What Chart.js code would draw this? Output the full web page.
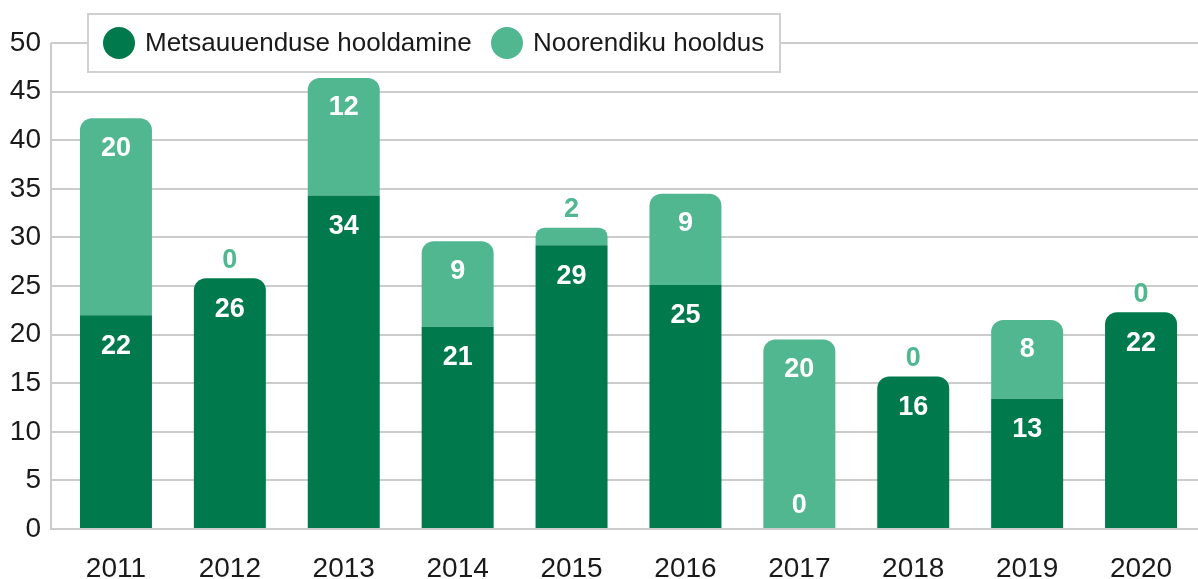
<!DOCTYPE html>
<html>
<head>
<meta charset="utf-8">
<script src="https://cdn.jsdelivr.net/npm/chart.js@4/dist/chart.umd.min.js"></script>
<style>
  html, body { margin: 0; padding: 0; background: #fff; }
  #wrap { width: 1198px; height: 579px; position: relative; }
</style>
</head>
<body>
<div id="wrap"><canvas id="chart" width="1198" height="579"></canvas></div>
<script>
const years = ['2011', '2012', '2013', '2014', '2015', '2016', '2017', '2018', '2019', '2020'];
const metsauuendus = [22.0, 25.8, 34.3, 20.8, 29.2, 25.1, 0, 15.7, 13.4, 22.3];
const noorendik = [20.25, 0, 12.1, 8.8, 1.8, 9.4, 19.5, 0, 8.1, 0];
const seriesNames = ['Metsauuenduse hooldamine', 'Noorendiku hooldus'];
const yMin = 0, yMax = 50, yStep = 5;

const DARK = '#007a4c';
const LIGHT = '#51b791';
const GRID = '#cccccc';
const FONT = '"Liberation Sans", Arial, sans-serif';

// value labels on the bars
const barLabels = {
    id: 'barLabels',
    afterDatasetsDraw(chart) {
        const ctx = chart.ctx;
        ctx.save();
        ctx.font = 'bold 27px ' + FONT;
        ctx.textAlign = 'center';
        ctx.textBaseline = 'middle';
        chart.data.datasets.forEach((ds, di) => {
            const meta = chart.getDatasetMeta(di);
            meta.data.forEach((bar, i) => {
                const v = ds.data[i];
                let y, color = '#ffffff';
                if (di === 0) {
                    if (v === 0) y = bar.base - 23;
                    else y = bar.y + 31;
                } else {
                    if (v < 4) { y = bar.y - 18; color = LIGHT; }
                    else y = bar.y + 30;
                }
                ctx.fillStyle = color;
                ctx.fillText(String(Math.round(v)), bar.x, y);
            });
        });
        ctx.restore();
    }
};

// axis line left of the ticks + boxed legend over the plot
const decor = {
    id: 'decor',
    beforeDatasetsDraw(chart) {
        const ctx = chart.ctx;
        const a = chart.chartArea;
        ctx.save();
        ctx.strokeStyle = GRID;
        ctx.lineWidth = 2;
        ctx.beginPath();
        ctx.moveTo(a.left - 8, a.top);
        ctx.lineTo(a.left - 8, a.bottom + 1);
        ctx.stroke();
        ctx.restore();
    },
    afterDraw(chart) {
        const ctx = chart.ctx;
        ctx.save();
        ctx.fillStyle = '#ffffff';
        ctx.fillRect(88, 14, 692, 58);
        ctx.strokeStyle = '#d0d0d0';
        ctx.lineWidth = 2;
        ctx.strokeRect(88, 14, 692, 58);
        ctx.font = '26px ' + FONT;
        ctx.textBaseline = 'middle';
        ctx.textAlign = 'left';
        const xs = [119, 507];
        chart.data.datasets.forEach((ds, i) => {
            ctx.fillStyle = ds.backgroundColor;
            ctx.beginPath();
            ctx.arc(xs[i], 43, 16, 0, Math.PI * 2);
            ctx.fill();
            ctx.fillStyle = '#1a1a1a';
            ctx.fillText(ds.label, xs[i] + 26, 44);
        });
        ctx.restore();
    }
};

const topRound = { topLeft: 12, topRight: 12, bottomLeft: 0, bottomRight: 0 };

new Chart(document.getElementById('chart'), {
    type: 'bar',
    data: {
        labels: years,
        datasets: [{
            label: seriesNames[0],
            data: metsauuendus,
            backgroundColor: DARK,
            borderRadius: c => noorendik[c.dataIndex] === 0 ? topRound : 0,
            borderSkipped: 'start'
        }, {
            label: seriesNames[1],
            data: noorendik,
            backgroundColor: LIGHT,
            borderRadius: topRound,
            borderSkipped: 'start'
        }]
    },
    options: {
        responsive: false,
        animation: false,
        layout: { padding: { top: 43, right: 0, bottom: 0, left: 0 } },
        datasets: { bar: { barPercentage: 0.632, categoryPercentage: 1 } },
        plugins: { legend: { display: false }, tooltip: { enabled: false } },
        scales: {
            x: {
                stacked: true,
                grid: { display: false, drawTicks: false },
                border: { display: false },
                ticks: { color: '#1a1a1a', font: { family: FONT, size: 28 }, padding: 23, maxRotation: 0 },
                afterFit(s) { s.height = 50; }
            },
            y: {
                stacked: true,
                min: yMin,
                max: yMax,
                grid: { color: GRID, lineWidth: 2, tickLength: 8 },
                border: { display: false },
                ticks: { stepSize: yStep, color: '#1a1a1a', font: { family: FONT, size: 28 }, padding: 10 },
                afterFit(s) { s.width = 59; }
            }
        }
    },
    plugins: [barLabels, decor]
});
</script>
</body>
</html>
